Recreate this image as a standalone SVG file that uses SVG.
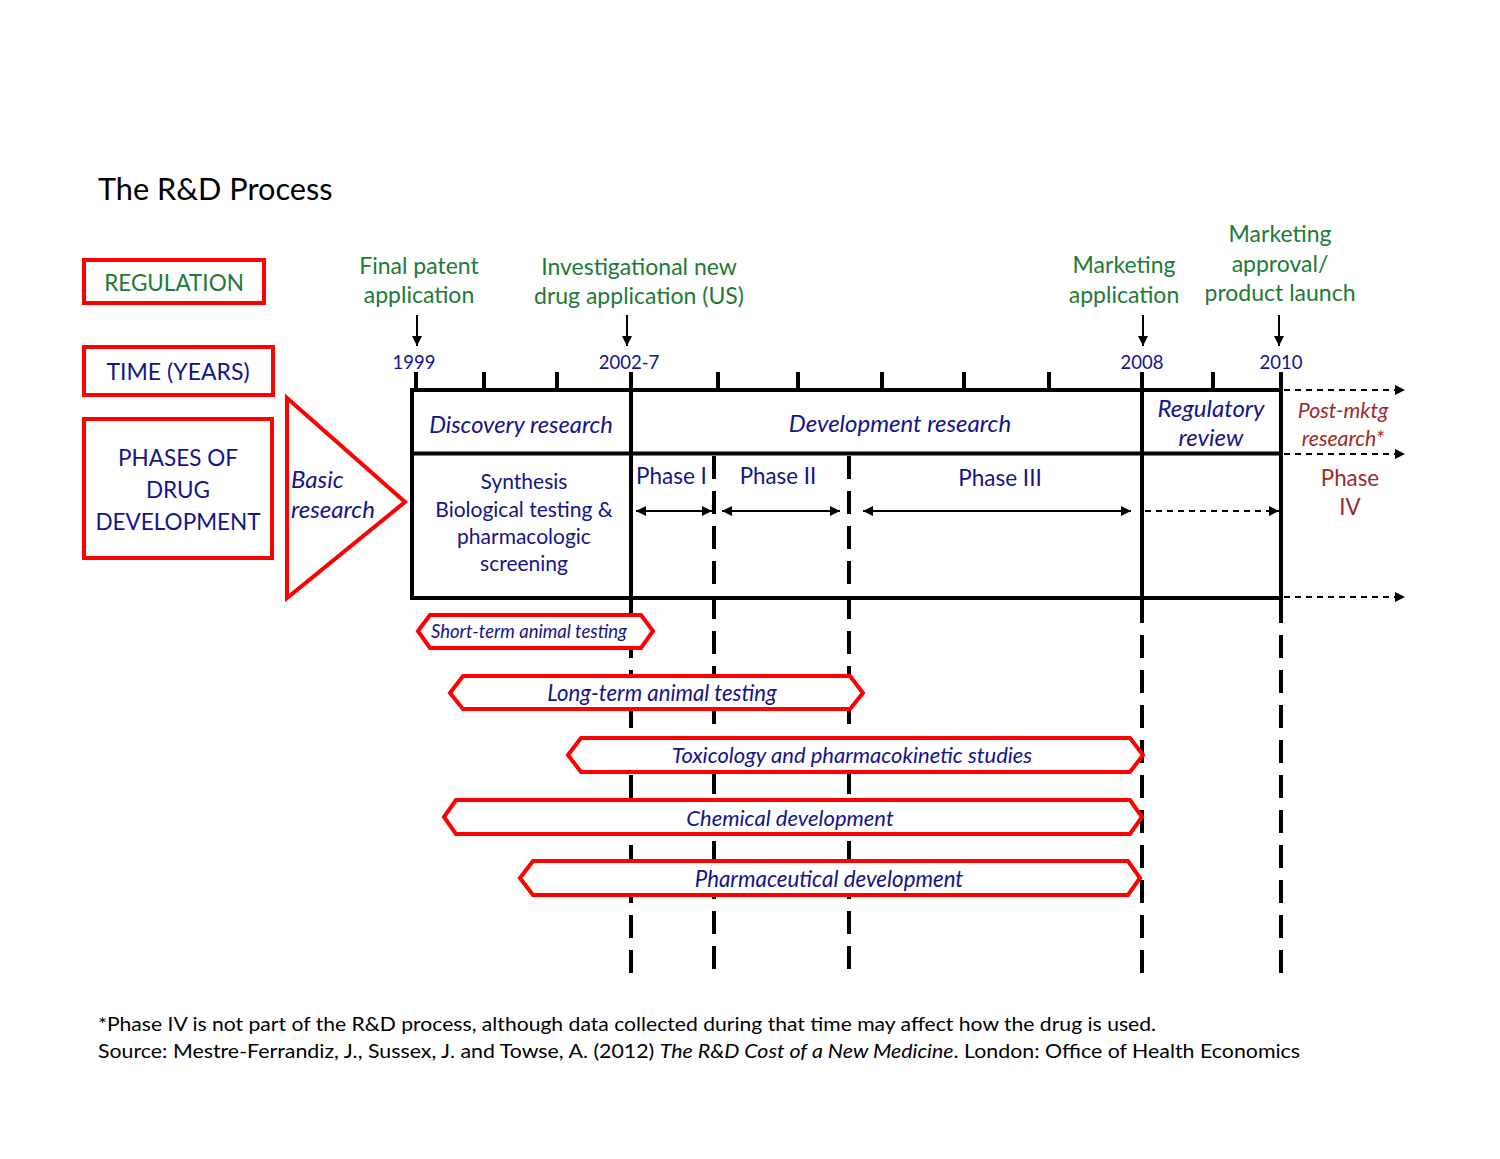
<svg xmlns="http://www.w3.org/2000/svg" width="1500" height="1159" viewBox="0 0 1500 1159">
<style>
text{font-family:Lato,"Open Sans","Liberation Sans",sans-serif}
.g{fill:#1d7a35}
.b{fill:#14148a}
.r{fill:#9c2a2a}
.it{font-style:italic}
.redbox{fill:#fff;stroke:#ff0000;stroke-width:4}
.ban{fill:#fff;stroke:#ff0000;stroke-width:4;stroke-linejoin:miter}
.solid{stroke:#000;stroke-width:4;fill:none}
.thin{stroke:#000;stroke-width:2;fill:none}
.dash{stroke:#000;stroke-width:4;stroke-dasharray:23 12;fill:none}
.dsm{stroke:#000;stroke-width:2;stroke-dasharray:6 5;fill:none}
</style>
<defs>
<marker id="ah" viewBox="0 0 10 10" refX="10" refY="5" markerWidth="12" markerHeight="10" markerUnits="userSpaceOnUse" orient="auto-start-reverse">
<path d="M0,0 L10,5 L0,10 z" fill="#000"/>
</marker>
</defs>
<rect width="1500" height="1159" fill="#fff"/>
<text x="98" y="200" font-size="30.7" fill="#000">The R&amp;D Process</text>

<g id="regulation">
<rect class="redbox" x="84" y="260" width="180" height="43"/>
<text class="g" x="174" y="291" font-size="22.5" text-anchor="middle">REGULATION</text>
</g>
<g id="time">
<rect class="redbox" x="84" y="347" width="189" height="48"/>
<text class="b" x="178" y="380" font-size="23" text-anchor="middle">TIME (YEARS)</text>
</g>
<g id="phases">
<rect class="redbox" x="84" y="419" width="188" height="139"/>
<text class="b" font-size="22.5" text-anchor="middle"><tspan x="178" y="466">PHASES OF</tspan><tspan x="178" y="498">DRUG</tspan><tspan x="178" y="530">DEVELOPMENT</tspan></text>
</g>
<g id="basic">
<polygon class="redbox" points="287,398 405,502 287,598"/>
<text class="b it" font-size="24"><tspan x="291" y="488">Basic</tspan><tspan x="291" y="518">research</tspan></text>
</g>

<g id="labels-regulation" font-size="23" text-anchor="middle">
<text class="g"><tspan x="419" y="274">Final patent</tspan><tspan x="419" y="303">application</tspan></text>
<text class="g"><tspan x="639" y="275">Investigational new</tspan><tspan x="639" y="304">drug application (US)</tspan></text>
<text class="g"><tspan x="1124" y="273">Marketing</tspan><tspan x="1124" y="303">application</tspan></text>
<text class="g"><tspan x="1280" y="242">Marketing</tspan><tspan x="1280" y="272">approval/</tspan><tspan x="1280" y="301">product launch</tspan></text>
</g>

<g id="years" font-size="18.5" text-anchor="middle">
<text class="b" x="414" y="369">1999</text>
<text class="b" x="629" y="369">2002-7</text>
<text class="b" x="1142" y="369">2008</text>
<text class="b" x="1281" y="369">2010</text>
</g>

<g id="timeline">
<rect class="solid" x="412" y="390" width="869" height="208"/>
<line class="solid" x1="412" y1="453.5" x2="1281" y2="453.5"/>
<line class="solid" x1="631" y1="390" x2="631" y2="598"/>
<line class="solid" x1="1142" y1="390" x2="1142" y2="598"/>
<path class="solid" d="M416,372V390 M484,372V390 M557,372V390 M631,372V390 M718,372V390 M798,372V390 M882,372V390 M964,372V390 M1049,372V390 M1142,372V390 M1213,372V390 M1281,372V390"/>
</g>

<g id="stage-labels">
<text class="b it" x="521" y="433" font-size="23.7" text-anchor="middle">Discovery research</text>
<text class="b it" x="900" y="432" font-size="24" text-anchor="middle">Development research</text>
<text class="b it" font-size="24" text-anchor="middle"><tspan x="1211" y="417">Regulatory</tspan><tspan x="1211" y="446">review</tspan></text>
<text class="r it" font-size="21.3" text-anchor="middle"><tspan x="1343" y="418">Post-mktg</tspan><tspan x="1343" y="446">research*</tspan></text>
<text class="b" font-size="21" text-anchor="middle"><tspan x="524" y="489">Synthesis</tspan><tspan x="524" y="517">Biological testing &amp;</tspan><tspan x="524" y="544">pharmacologic</tspan><tspan x="524" y="571">screening</tspan></text>
<text class="b" x="636" y="484" font-size="22.5">Phase I</text>
<text class="b" x="778" y="484" font-size="22.3" text-anchor="middle">Phase II</text>
<text class="b" x="1000" y="486" font-size="22.5" text-anchor="middle">Phase III</text>
<text class="r" font-size="22.3" text-anchor="middle"><tspan x="1350" y="486">Phase</tspan><tspan x="1350" y="515">IV</tspan></text>
</g>

<g id="connectors">
<line class="thin" x1="417" y1="315" x2="417" y2="346" marker-end="url(#ah)"/>
<line class="thin" x1="627" y1="315" x2="627" y2="346" marker-end="url(#ah)"/>
<line class="thin" x1="1143" y1="315" x2="1143" y2="346" marker-end="url(#ah)"/>
<line class="thin" x1="1279" y1="315" x2="1279" y2="346" marker-end="url(#ah)"/>
<line class="dsm" x1="1284" y1="390" x2="1405" y2="390" marker-end="url(#ah)"/>
<line class="dsm" x1="1284" y1="454" x2="1405" y2="454" marker-end="url(#ah)"/>
<line class="dsm" x1="1284" y1="597" x2="1405" y2="597" marker-end="url(#ah)"/>
<line class="thin" x1="636" y1="511" x2="712" y2="511" marker-start="url(#ah)" marker-end="url(#ah)"/>
<line class="thin" x1="722" y1="511" x2="840" y2="511" marker-start="url(#ah)" marker-end="url(#ah)"/>
<line class="thin" x1="863" y1="511" x2="1131" y2="511" marker-start="url(#ah)" marker-end="url(#ah)"/>
<line class="dsm" x1="1145" y1="511" x2="1279" y2="511" marker-end="url(#ah)"/>
<line class="dash" x1="714" y1="456" x2="714" y2="975"/>
<line class="dash" x1="849" y1="456" x2="849" y2="975"/>
<line class="dash" x1="631" y1="600" x2="631" y2="975"/>
<line class="dash" x1="1142" y1="600" x2="1142" y2="975"/>
<line class="dash" x1="1281" y1="600" x2="1281" y2="975"/>
</g>

<g id="short-term">
<polygon class="ban" points="418,631 430,615 641,615 653,631 641,648 430,648"/>
<text class="b it" x="529" y="638" font-size="18.5" text-anchor="middle">Short-term animal testing</text>
</g>
<g id="long-term">
<polygon class="ban" points="450,693 463,676 850,676 863,693 850,709 463,709"/>
<text class="b it" x="662" y="701" font-size="22.2" text-anchor="middle">Long-term animal testing</text>
</g>
<g id="toxicology">
<polygon class="ban" points="568,755 581,738 1130,738 1143,755 1130,772 581,772"/>
<text class="b it" x="852" y="763" font-size="22" text-anchor="middle">Toxicology and pharmacokinetic studies</text>
</g>
<g id="chemical">
<polygon class="ban" points="444,817 456,800 1130,800 1142,817 1130,834 456,834"/>
<text class="b it" x="790" y="826" font-size="22" text-anchor="middle">Chemical development</text>
</g>
<g id="pharmaceutical">
<polygon class="ban" points="520,878 533,861 1128,861 1140,878 1128,895 533,895"/>
<text class="b it" x="829" y="887" font-size="22.3" text-anchor="middle">Pharmaceutical development</text>
</g>

<g id="footnote" font-size="19" fill="#000">
<text x="98" y="1031" textLength="1058" lengthAdjust="spacingAndGlyphs">*Phase IV is not part of the R&amp;D process, although data collected during that time may affect how the drug is used.</text>
<text x="98" y="1058" textLength="1202" lengthAdjust="spacingAndGlyphs">Source:  Mestre-Ferrandiz, J., Sussex, J. and Towse, A. (2012) <tspan font-style="italic">The R&amp;D Cost of a New Medicine</tspan>. London: Office of Health Economics</text>
</g>
</svg>
